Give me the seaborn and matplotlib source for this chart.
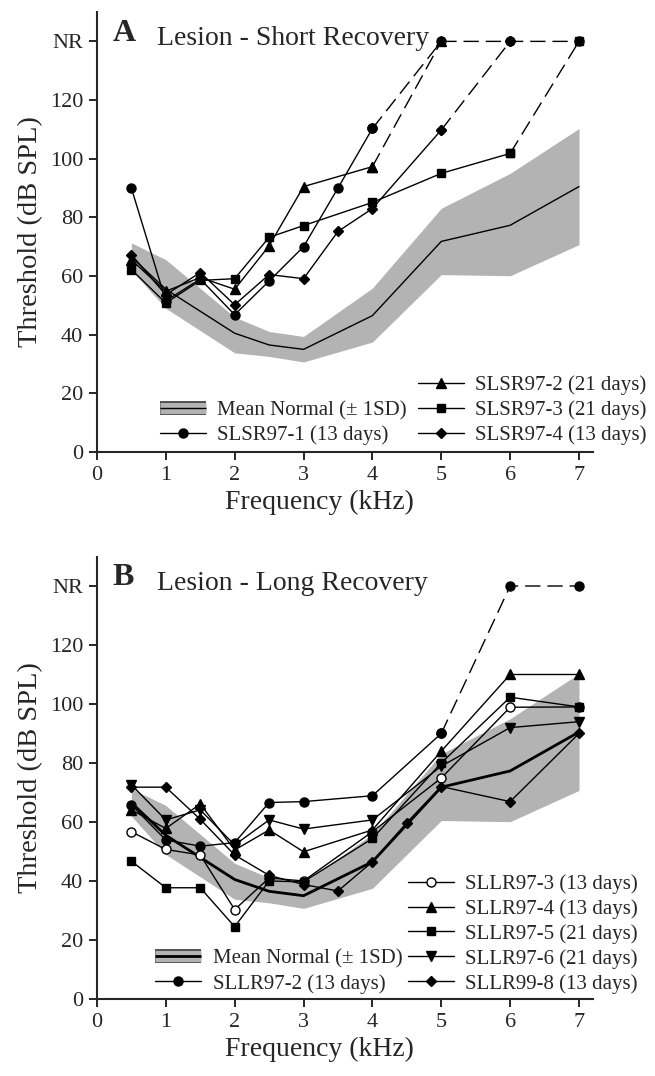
import matplotlib
matplotlib.use("Agg")
import matplotlib.pyplot as plt
import matplotlib.patheffects as pe
import seaborn as sns
from matplotlib.lines import Line2D
from matplotlib.legend_handler import HandlerTuple

NR = 140  # "no response" plotted at the NR tick

# ---- normal hearing (mean +/- 1 SD), shared by both panels ----
norm_freq = [0.5, 1, 2, 2.5, 3, 4, 5, 6, 7]
norm_mean = [66.5, 55.5, 40.5, 36.5, 35.0, 46.5, 71.8, 77.3, 90.5]
norm_upper = [71.3, 65.6, 46.0, 41.1, 39.4, 55.9, 83.1, 95.0, 110.3]
norm_lower = [62.0, 49.0, 33.8, 32.6, 30.7, 37.5, 60.5, 60.1, 70.7]

# ---- Panel A: Lesion - Short Recovery ----
sr1_freq = [0.5, 1, 1.5, 2, 2.5, 3, 3.5, 4, 5, 6, 7]
sr1_val = [90, 51.5, 59, 46.8, 58.3, 70, 90, 110.3, NR, NR, NR]
sr2_freq = [0.5, 1, 1.5, 2, 2.5, 3, 4, 5]
sr2_val = [65.5, 54.8, 59.5, 55.5, 70.3, 90.5, 97.3, NR]
sr3_freq = [0.5, 1, 1.5, 2, 2.5, 3, 4, 5, 6, 7]
sr3_val = [62.2, 50.8, 58.5, 59.1, 73.2, 77.2, 85.1, 95.0, 101.8, NR]
sr4_freq = [0.5, 1, 1.5, 2, 2.5, 3, 3.5, 4, 5, 6]
sr4_val = [67.3, 53.6, 61.2, 50.2, 60.5, 59.1, 75.2, 83.0, 109.8, NR]

# ---- Panel B: Lesion - Long Recovery ----
lr_freq = [0.5, 1, 1.5, 2, 2.5, 3, 4, 5, 6, 7]
lr2_val = [65.8, 53.9, 51.8, 53.0, 66.6, 66.9, 68.9, 90.0, NR, NR]
lr3_val = [56.7, 50.7, 48.8, 30.3, 41.0, 40.0, 56.7, 74.9, 98.9, 99.0]
lr4_val = [64.1, 57.8, 66.1, 50.5, 57.3, 49.9, 57.3, 84.0, 110.0, 110.0]
lr5_val = [46.7, 37.7, 37.7, 24.5, 40.0, 39.7, 54.4, 80.0, 102.3, 99.0]
lr6_val = [72.6, 60.7, 64.1, 52.2, 60.7, 57.6, 60.7, 78.9, 92.0, 94.0]
lr8_freq = [0.5, 1, 1.5, 2, 2.5, 3, 3.5, 4, 4.5, 5, 6, 7]
lr8_val = [71.8, 71.8, 60.9, 48.8, 41.9, 38.8, 36.6, 46.5, 59.8, 72.0, 66.9, 90.0]

labels_a = ["SLSR97-1 (13 days)", "SLSR97-2 (21 days)",
            "SLSR97-3 (21 days)", "SLSR97-4 (13 days)"]
labels_b = ["SLLR97-2 (13 days)", "SLLR97-3 (13 days)", "SLLR97-4 (13 days)",
            "SLLR97-5 (21 days)", "SLLR97-6 (21 days)", "SLLR99-8 (13 days)"]
norm_label = "Mean Normal (\u00b1 1SD)"
y_ticks = [0, 20, 40, 60, 80, 100, 120, NR]
y_ticklabels = ["0", "20", "40", "60", "80", "100", "120", "NR"]
x_ticks = [0, 1, 2, 3, 4, 5, 6, 7]

sns.set_style("ticks")
plt.rcParams["font.family"] = ["Liberation Serif", "DejaVu Serif"]

GRAY = "#b3b3b3"
DASH = (0, (11, 5))


def draw_series(ax, f, v, marker, ms, mfc="k"):
    meas = [i for i, val in enumerate(v) if val != NR]
    last = meas[-1]
    kw = dict(ax=ax, color="k", linewidth=1.0, marker=marker, markersize=ms,
              markerfacecolor=mfc, markeredgecolor="k", markeredgewidth=1.0,
              estimator=None, sort=False, legend=False)
    sns.lineplot(x=f[:last + 1], y=v[:last + 1], zorder=3, **kw)
    if last < len(v) - 1:
        sns.lineplot(x=f[last:], y=v[last:], linestyle=DASH, zorder=3, **kw)
    return Line2D([], [], color="k", lw=1.0, marker=marker, markersize=ms,
                  markerfacecolor=mfc, markeredgecolor="k")


def style_axes(ax):
    ax.set_xlim(0, 7.2)
    ax.set_ylim(0, 150)
    ax.set_xticks(x_ticks)
    ax.set_xticklabels([str(t) for t in x_ticks])
    ax.set_yticks(y_ticks)
    ax.set_yticklabels(y_ticklabels)
    for s in ["top", "right"]:
        ax.spines[s].set_visible(False)
    for s in ["left", "bottom"]:
        ax.spines[s].set_linewidth(1.5)
    ax.tick_params(direction="out", length=6, width=1.4, labelsize=16, pad=4)
    ax.set_xlabel("Frequency (kHz)", fontsize=20)
    ax.set_ylabel("Threshold (dB SPL)", fontsize=20.5, labelpad=5)
    ax.xaxis.set_label_coords(0.448, -0.085)


def draw_normal(ax, lw):
    ax.fill_between(norm_freq, norm_lower, norm_upper, color=GRAY, lw=0, zorder=1)
    sns.lineplot(x=norm_freq, y=norm_mean, ax=ax, color="k", linewidth=lw,
                 estimator=None, sort=False, legend=False, zorder=2)
    band = Line2D([], [], color=GRAY, lw=8, solid_capstyle="butt",
                  path_effects=[pe.Stroke(linewidth=10, foreground="#4d4d4d"),
                                pe.Normal()])
    return (band, Line2D([], [], color="k", lw=lw, solid_capstyle="butt"))


fig = plt.figure(figsize=(6.55, 10.76), dpi=100)
axA = fig.add_axes([0.148, 0.5799, 0.757, 0.4089])
axB = fig.add_axes([0.148, 0.0716, 0.757, 0.4112])

leg_kw = dict(frameon=False, fontsize=15, handlelength=2.2, handletextpad=0.55,
              labelspacing=0.25, borderpad=0, borderaxespad=0,
              handler_map={tuple: HandlerTuple(ndivide=1, pad=0)})

# ---- Panel A ----
nA = draw_normal(axA, 1.0)
h1 = draw_series(axA, sr1_freq, sr1_val, "o", 6.5)
h2 = draw_series(axA, sr2_freq, sr2_val, "^", 6.5)
h3 = draw_series(axA, sr3_freq, sr3_val, "s", 6)
h4 = draw_series(axA, sr4_freq, sr4_val, "D", 5.5)
style_axes(axA)
axA.text(0.032, 0.985, "A", transform=axA.transAxes, fontsize=23,
         fontweight="bold", va="top", ha="left")
axA.text(0.122, 0.968, "Lesion - Short Recovery", transform=axA.transAxes,
         fontsize=20, va="top", ha="left")
legA1 = axA.legend([nA, h1], [norm_label, labels_a[0]], loc="lower left",
                   bbox_to_anchor=(0.127, 0.016), **leg_kw)
axA.add_artist(legA1)
axA.legend([h2, h3, h4], labels_a[1:], loc="lower left",
           bbox_to_anchor=(0.647, 0.016), **leg_kw)

# ---- Panel B ----
nB = draw_normal(axB, 2.0)
g2 = draw_series(axB, lr_freq, lr2_val, "o", 6.5)
g3 = draw_series(axB, lr_freq, lr3_val, "o", 6.5, mfc="white")
g4 = draw_series(axB, lr_freq, lr4_val, "^", 6.5)
g5 = draw_series(axB, lr_freq, lr5_val, "s", 6)
g6 = draw_series(axB, lr_freq, lr6_val, "v", 6.5)
g8 = draw_series(axB, lr8_freq, lr8_val, "D", 5.5)
style_axes(axB)
axB.text(0.032, 0.985, "B", transform=axB.transAxes, fontsize=23,
         fontweight="bold", va="top", ha="left")
axB.text(0.122, 0.968, "Lesion - Long Recovery", transform=axB.transAxes,
         fontsize=20, va="top", ha="left")
legB1 = axB.legend([nB, g2], [norm_label, labels_b[0]], loc="lower left",
                   bbox_to_anchor=(0.118, 0.012), **leg_kw)
axB.add_artist(legB1)
axB.legend([g3, g4, g5, g6, g8], labels_b[1:], loc="lower left",
           bbox_to_anchor=(0.627, 0.012), **leg_kw)

fig.savefig("out.png", dpi=100)
